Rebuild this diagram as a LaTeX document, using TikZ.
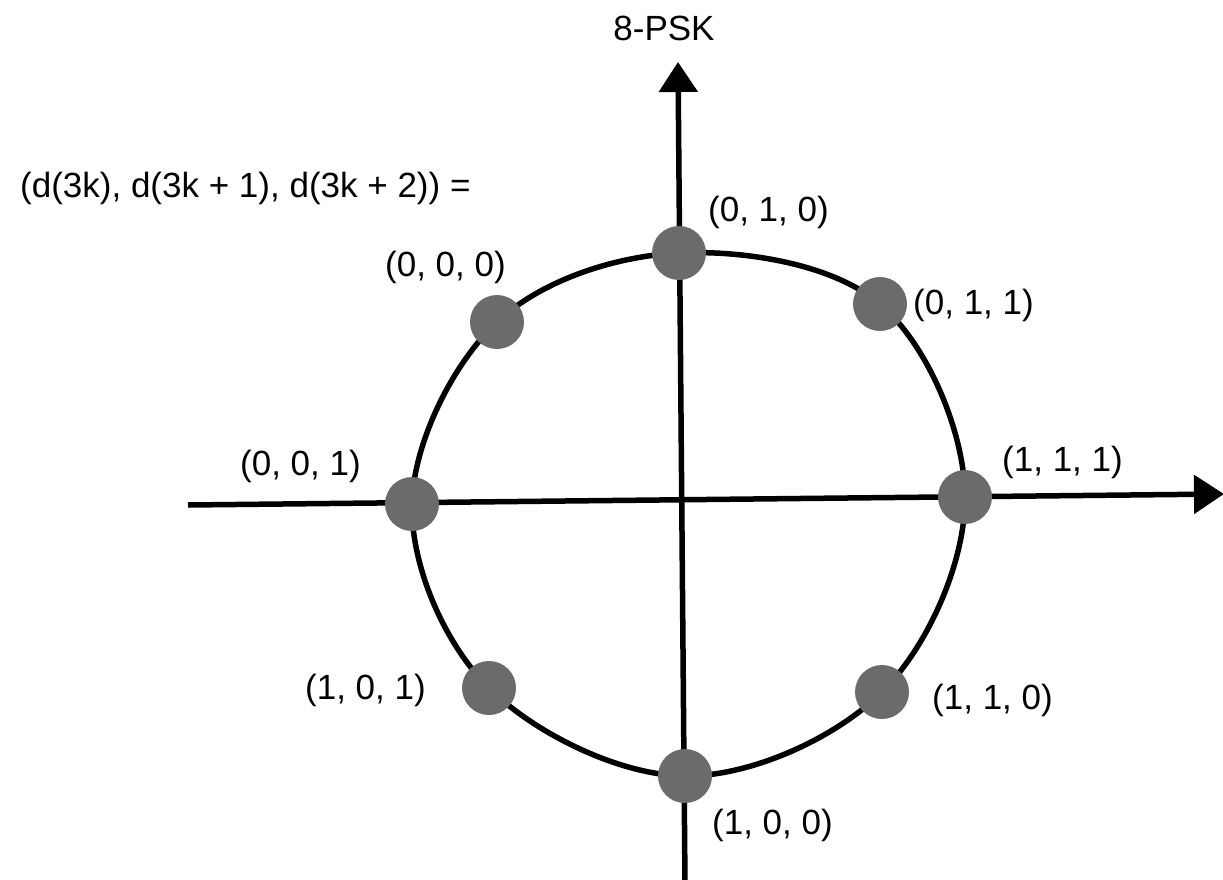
\documentclass[tikz,border=0pt]{standalone}
\usepackage{fontspec}
\setmainfont{Liberation Sans}
\usetikzlibrary{arrows.meta}
\begin{document}
\begin{tikzpicture}[x=1pt,y=-1pt,
  axisline/.style={line width=5.5pt, -{Triangle[length=30pt,width=38pt]}},
  ring/.style={line width=5.5pt},
  dotnode/.style={circle, fill=black!58, minimum size=54pt, inner sep=0pt},
  lbl/.style={font=\fontsize{35}{42}\selectfont, inner sep=0pt, anchor=west}]
\useasboundingbox (0,0) rectangle (1223,880);
% constellation point positions
\coordinate (p010) at (679,253);
\coordinate (p011) at (880,304);
\coordinate (p111) at (965,497);
\coordinate (p110) at (882,692);
\coordinate (p100) at (685,776);
\coordinate (p101) at (489,688);
\coordinate (p001) at (412,504);
\coordinate (p000) at (497,322);
% axis ends
\coordinate (xl) at (188,505);
\coordinate (xr) at (1224,494);
\coordinate (yt) at (678,62);
\coordinate (yb) at (685,885);
% circle
\draw[ring] plot[smooth cycle, tension=0.6] coordinates {(p010) (p011) (p111) (p110) (p100) (p101) (p001) (p000)};
% axes
\draw[axisline] (xl) -- (xr);
\draw[axisline] (yb) -- (yt);
% dots
\node[dotnode] (d010) at (p010) {};
\node[dotnode] (d011) at (p011) {};
\node[dotnode] (d111) at (p111) {};
\node[dotnode] (d110) at (p110) {};
\node[dotnode] (d100) at (p100) {};
\node[dotnode] (d101) at (p101) {};
\node[dotnode] (d001) at (p001) {};
\node[dotnode] (d000) at (p000) {};
% labels
\node[lbl, anchor=center] (title) at (664,28) {8-PSK};
\node[lbl] (eq) at (20,188) {(d(3k), d(3k + 1), d(3k + 2)) =};
\node[lbl] (l010) at (708,212) {(0, 1, 0)};
\node[lbl] (l000) at (385,267) {(0, 0, 0)};
\node[lbl] (l011) at (913,305) {(0, 1, 1)};
\node[lbl] (l001) at (240,466) {(0, 0, 1)};
\node[lbl] (l111) at (1002,462) {(1, 1, 1)};
\node[lbl] (l101) at (305,690) {(1, 0, 1)};
\node[lbl] (l110) at (932,700) {(1, 1, 0)};
\node[lbl] (l100) at (712,825) {(1, 0, 0)};
\end{tikzpicture}
\end{document}
